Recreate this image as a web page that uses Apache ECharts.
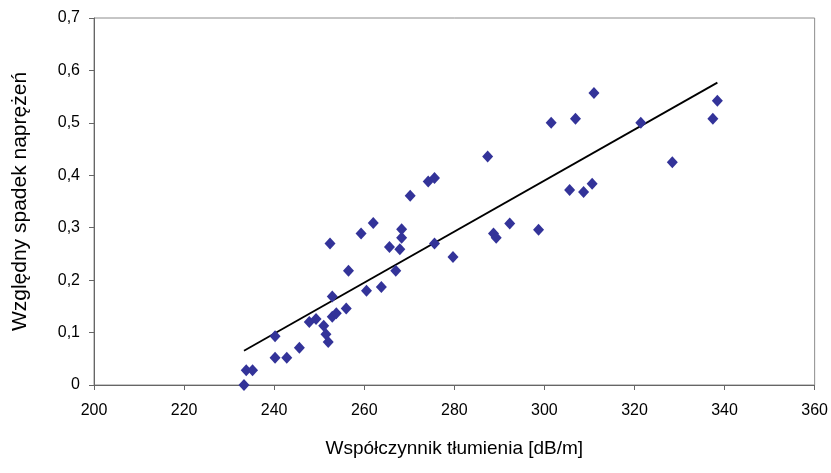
<!DOCTYPE html>
<html>
<head>
<meta charset="utf-8">
<script src="https://cdn.jsdelivr.net/npm/echarts@6/dist/echarts.min.js"></script>
<style>
  html, body { margin: 0; padding: 0; background: #fff; }
  #chart { width: 831px; height: 473px; }
</style>
</head>
<body>
<div id="chart"></div>
<script>
// attenuation coefficient [dB/m]
const attenuation = [
  233.3, 233.8, 235.2, 240.2, 240.2, 242.8, 245.6, 247.8, 249.3, 251.0,
  251.5, 252.0, 252.9, 252.4, 252.9, 253.8, 256.0, 256.5, 259.3, 260.5,
  262.0, 263.8, 265.6, 267.0, 267.9, 268.3, 268.3, 270.2, 274.2, 275.6,
  275.6, 279.7, 287.4, 288.7, 289.3, 292.3, 298.7, 301.5, 305.6, 306.9,
  308.7, 310.6, 311.0, 321.4, 328.4, 337.4, 338.4
];
// relative stress drop
const stressDrop = [
  0.000, 0.028, 0.028, 0.093, 0.052, 0.052, 0.071, 0.120, 0.126, 0.113,
  0.097, 0.082, 0.169, 0.270, 0.130, 0.137, 0.146, 0.218, 0.289, 0.180,
  0.309, 0.187, 0.263, 0.218, 0.259, 0.281, 0.297, 0.361, 0.388, 0.395,
  0.270, 0.244, 0.436, 0.289, 0.281, 0.308, 0.296, 0.500, 0.372, 0.508,
  0.368, 0.384, 0.557, 0.500, 0.425, 0.508, 0.542
];

const points = attenuation.map((x, i) => [x, stressDrop[i]]);

// linear trend (least squares), drawn from min x to max x
const n = points.length;
const mx = attenuation.reduce((a, b) => a + b, 0) / n;
const my = stressDrop.reduce((a, b) => a + b, 0) / n;
let sxy = 0, sxx = 0;
for (let i = 0; i < n; i += 1) {
  sxy += (attenuation[i] - mx) * (stressDrop[i] - my);
  sxx += (attenuation[i] - mx) * (attenuation[i] - mx);
}
const slope = sxy / sxx;
const intercept = my - slope * mx;
const xMin = Math.min(...attenuation);
const xMax = Math.max(...attenuation);
const trend = [[xMin, intercept + slope * xMin], [xMax, intercept + slope * xMax]];

const chart = echarts.init(document.getElementById('chart'));
const font = 'Liberation Sans, Arial, sans-serif';

chart.setOption({
  animation: false,
  grid: {
    left: 94, right: 16, top: 18, bottom: 88,
    show: true, borderColor: '#8c8c8c', borderWidth: 1
  },
  xAxis: {
    type: 'value',
    min: 200, max: 360, interval: 20,
    name: 'Współczynnik tłumienia [dB/m]',
    nameLocation: 'middle',
    nameGap: 54,
    nameTextStyle: { fontFamily: font, fontSize: 19, color: '#000' },
    axisLine: { lineStyle: { color: '#666', width: 1 } },
    axisTick: { show: true, length: 5, lineStyle: { color: '#666' } },
    axisLabel: { fontFamily: font, fontSize: 16, color: '#000', margin: 18 },
    splitLine: { show: false }
  },
  yAxis: {
    type: 'value',
    min: 0, max: 0.7, interval: 0.1,
    name: 'Względny spadek naprężeń',
    nameLocation: 'middle',
    nameGap: 63,
    nameTextStyle: { fontFamily: font, fontSize: 21, color: '#000' },
    axisLine: { show: true, lineStyle: { color: '#666', width: 1 } },
    axisTick: { show: true, length: 5, lineStyle: { color: '#666' } },
    axisLabel: {
      fontFamily: font, fontSize: 16, color: '#000', margin: 14,
      formatter: v => (Math.round(v * 10) / 10).toString().replace('.', ',')
    },
    splitLine: { show: false }
  },
  series: [
    {
      type: 'line',
      data: trend,
      symbol: 'none',
      lineStyle: { color: '#000', width: 1.8 },
      z: 1
    },
    {
      type: 'scatter',
      data: points,
      symbol: 'diamond',
      symbolSize: [11, 12],
      itemStyle: { color: '#333399', opacity: 1 },
      z: 2
    }
  ]
});
</script>
</body>
</html>
